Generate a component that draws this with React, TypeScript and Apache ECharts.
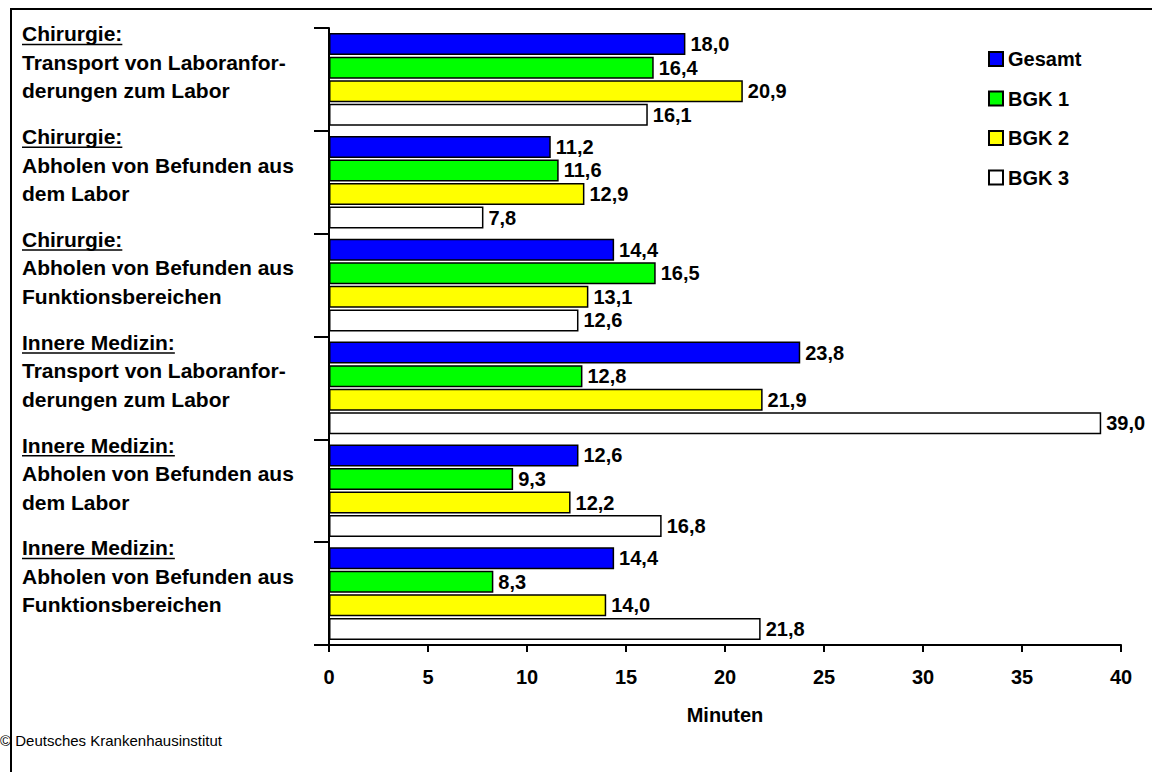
import React, { useEffect, useRef } from "react";
import * as echarts from "echarts";

const headings = ["Chirurgie:", "Chirurgie:", "Chirurgie:", "Innere Medizin:", "Innere Medizin:", "Innere Medizin:"];
const subLines = [
  ["Transport von Laboranfor-", "derungen zum Labor"],
  ["Abholen von Befunden aus", "dem Labor"],
  ["Abholen von Befunden aus", "Funktionsbereichen"],
  ["Transport von Laboranfor-", "derungen zum Labor"],
  ["Abholen von Befunden aus", "dem Labor"],
  ["Abholen von Befunden aus", "Funktionsbereichen"],
];
const categories = headings.map((h, i) => [h, ...subLines[i]].join("|"));
const seriesNames = ["Gesamt", "BGK 1", "BGK 2", "BGK 3"];
const gesamt = [18.0, 11.2, 14.4, 23.8, 12.6, 14.4];
const bgk1 = [16.4, 11.6, 16.5, 12.8, 9.3, 8.3];
const bgk2 = [20.9, 12.9, 13.1, 21.9, 12.2, 14.0];
const bgk3 = [16.1, 7.8, 12.6, 39.0, 16.8, 21.8];
const xTicks = { min: 0, max: 40, interval: 5 };
const colors = ["#0000FF", "#00FF00", "#FFFF00", "#FFFFFF"];

const FONT = "'Liberation Sans', Arial, sans-serif";
const CAT_FS = 21;
const FS = 20;
const LH = 28.5;

export default function App() {
  const ref = useRef<HTMLDivElement>(null);
  useEffect(() => {
    if (!ref.current) return;
    const chart = echarts.init(ref.current, null, { renderer: "svg" });
    const data = [gesamt, bgk1, bgk2, bgk3];
    const option: any = {
      animation: false,
      textStyle: { fontFamily: FONT },
      grid: { left: 329, right: 31, top: 28, bottom: 127, containLabel: false },
      legend: {
        orient: "vertical",
        left: 988,
        top: 49,
        padding: 0,
        itemWidth: 14,
        itemHeight: 14,
        itemGap: 19.5,
        icon: "rect",
        data: seriesNames,
        textStyle: { fontFamily: FONT, fontWeight: "bold", fontSize: FS, color: "#000", padding: [0, 0, 0, 0] },
      },
      xAxis: {
        type: "value",
        min: xTicks.min,
        max: xTicks.max,
        interval: xTicks.interval,
        name: "Minuten",
        nameLocation: "middle",
        nameGap: 60,
        nameTextStyle: { fontFamily: FONT, fontWeight: "bold", fontSize: FS, color: "#000" },
        axisLine: { show: true, lineStyle: { color: "#000", width: 2 } },
        axisTick: { show: true, length: 7, lineStyle: { color: "#000", width: 2 } },
        axisLabel: { margin: 22, fontFamily: FONT, fontWeight: "bold", fontSize: FS, color: "#000" },
        splitLine: { show: false },
      },
      yAxis: {
        type: "category",
        inverse: true,
        data: categories,
        axisLine: { show: true, lineStyle: { color: "#000", width: 2 } },
        axisTick: { show: true, length: 15, lineStyle: { color: "#000", width: 2 } },
        axisLabel: {
          align: "left",
          margin: 307,
          interval: 0,
          showMinLabel: true,
          showMaxLabel: true,
          hideOverlap: false,
          formatter: (v: string) => {
            const parts = v.split("|");
            return `{h|${parts[0]}}\n{t|${parts[1]}}\n{t|${parts[2]}}\n{e| }`;
          },
          rich: {
            h: { fontFamily: FONT, fontWeight: "bold", fontSize: CAT_FS, color: "#000", lineHeight: LH },
            t: { fontFamily: FONT, fontWeight: "bold", fontSize: CAT_FS, color: "#000", lineHeight: LH },
            e: { fontFamily: FONT, fontSize: CAT_FS, color: "#000", lineHeight: 34.5 },
          },
        },
      },
      series: seriesNames.map((n, i) => ({
        name: n,
        type: "bar",
        data: data[i],
        barWidth: 22,
        barGap: "7%",
        itemStyle: { color: colors[i], borderColor: "#000", borderWidth: 1.5 },
        label: {
          show: true,
          position: "right",
          distance: 5,
          fontFamily: FONT,
          fontWeight: "bold",
          fontSize: FS,
          color: "#000",
          formatter: (p: any) => p.value.toFixed(1).replace(".", ","),
        },
      })),
    };
    chart.setOption(option);

    const ctx = document.createElement("canvas").getContext("2d")!;
    ctx.font = `bold ${CAT_FS}px 'Liberation Sans', Arial, sans-serif`;
    const graphics: any[] = [
      {
        type: "rect",
        shape: { x: 11, y: 9, width: 1160, height: 780 },
        style: { fill: "none", stroke: "#000", lineWidth: 2 },
        silent: true,
      },
      {
        type: "text",
        x: 0,
        y: 740,
        style: { text: "© Deutsches Krankenhausinstitut", fontFamily: FONT, fontSize: 15, fill: "#000", verticalAlign: "middle" },
      },
    ];
    categories.forEach((c, i) => {
      const cy = chart.convertToPixel({ yAxisIndex: 0 }, c) as number;
      const w = ctx.measureText(headings[i]).width;
      const y = cy - 35;
      graphics.push({
        type: "line",
        shape: { x1: 22, y1: y, x2: 22 + w, y2: y },
        style: { stroke: "#000", lineWidth: 1.5 },
      });
    });
    chart.setOption({ graphic: graphics });
    return () => chart.dispose();
  }, []);
  return <div ref={ref} style={{ position: "absolute", left: 0, top: 0, width: 1152, height: 772, background: "#fff" }} />;
}
